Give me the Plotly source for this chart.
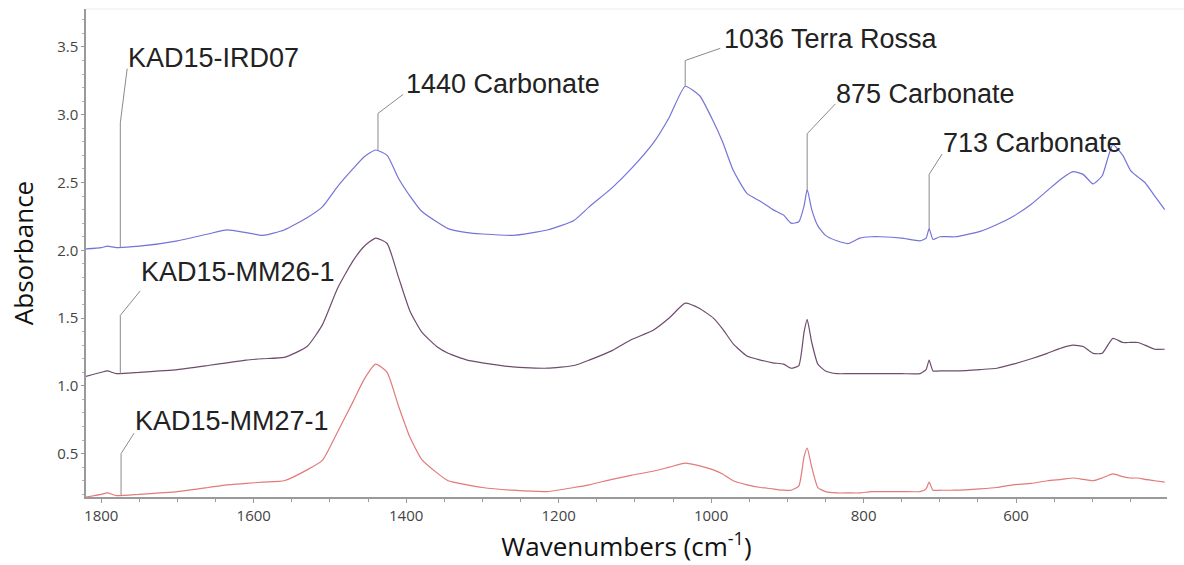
import plotly.graph_objects as go

wavenumber = [1820, 1800, 1792, 1780, 1750, 1700, 1660, 1635, 1610, 1588, 1560, 1530, 1510, 1490, 1470, 1455,
              1440, 1425, 1410, 1395, 1380, 1360, 1345, 1320, 1300, 1260, 1215, 1180, 1160, 1130, 1105, 1076,
              1055, 1034, 1015, 997, 985, 971, 953, 935, 919, 905, 895, 885, 878, 874, 868, 860, 850, 835, 820,
              805, 790, 778, 750, 726, 718, 714, 709, 700, 680, 647, 625, 604, 580, 559, 540, 525, 512, 499, 487,
              473, 460, 450, 440, 431, 418, 405]

ird07 = [2.01, 2.02, 2.03, 2.02, 2.03, 2.07, 2.12, 2.15, 2.13, 2.11, 2.15, 2.24, 2.32, 2.47, 2.60, 2.69,
         2.74, 2.70, 2.53, 2.40, 2.29, 2.21, 2.16, 2.13, 2.12, 2.11, 2.15, 2.22, 2.32, 2.46, 2.60, 2.79,
         2.98, 3.21, 3.14, 2.95, 2.80, 2.59, 2.42, 2.36, 2.30, 2.26, 2.20, 2.21, 2.33, 2.45, 2.30, 2.18, 2.11, 2.07, 2.05,
         2.09, 2.10, 2.10, 2.09, 2.07, 2.09, 2.16, 2.08, 2.10, 2.10, 2.14, 2.19, 2.25, 2.34, 2.44, 2.53, 2.58, 2.56, 2.49, 2.55,
         2.78, 2.70, 2.59, 2.54, 2.50, 2.40, 2.30]

mm26 = [1.07, 1.10, 1.11, 1.09, 1.10, 1.12, 1.15, 1.17, 1.19, 1.20, 1.21, 1.29, 1.45, 1.72, 1.92, 2.03,
        2.09, 2.05, 1.80, 1.55, 1.40, 1.29, 1.24, 1.19, 1.17, 1.14, 1.13, 1.15, 1.19, 1.26, 1.34, 1.41,
        1.50, 1.61, 1.57, 1.50, 1.42, 1.31, 1.22, 1.19, 1.17, 1.16, 1.13, 1.15, 1.40, 1.49, 1.32, 1.16, 1.11, 1.09, 1.09,
        1.09, 1.09, 1.09, 1.09, 1.09, 1.12, 1.19, 1.11, 1.11, 1.11, 1.12, 1.13, 1.16, 1.20, 1.24, 1.28, 1.30, 1.29, 1.24, 1.24,
        1.35, 1.32, 1.32, 1.32, 1.30, 1.27, 1.27]

mm27 = [0.18, 0.20, 0.21, 0.19, 0.20, 0.22, 0.25, 0.27, 0.28, 0.29, 0.30, 0.38, 0.45, 0.66, 0.88, 1.05,
        1.16, 1.10, 0.85, 0.62, 0.46, 0.36, 0.30, 0.27, 0.25, 0.23, 0.22, 0.25, 0.27, 0.31, 0.34, 0.37,
        0.40, 0.43, 0.41, 0.38, 0.35, 0.30, 0.27, 0.25, 0.24, 0.23, 0.23, 0.26, 0.48, 0.54, 0.40, 0.25, 0.22, 0.21, 0.21,
        0.21, 0.22, 0.22, 0.22, 0.22, 0.24, 0.29, 0.23, 0.23, 0.23, 0.24, 0.25, 0.27, 0.28, 0.30, 0.31, 0.32, 0.31, 0.30, 0.32,
        0.35, 0.33, 0.32, 0.32, 0.31, 0.30, 0.29]

series_names = ["KAD15-IRD07", "KAD15-MM26-1", "KAD15-MM27-1"]
series_colors = ["#7474d8", "#6e4c6e", "#e27a7a"]

# Labels: text, anchor wavenumber, anchor value (on curve), elbow value, label wavenumber, label value
label_texts = ["KAD15-IRD07", "KAD15-MM26-1", "KAD15-MM27-1",
               "1440 Carbonate", "1036 Terra Rossa", "875 Carbonate", "713 Carbonate"]
label_anchor_w = [1775, 1775, 1774, 1437, 1034, 874, 714]
label_anchor_v = [2.02, 1.09, 0.19, 2.74, 3.21, 2.45, 2.16]
label_elbow_v = [2.94, 1.52, 0.50, 3.01, 3.40, 2.86, 2.56]
label_end_w = [1766, 1749, 1757, 1404, 988, 837, 697]
label_end_v = [3.34, 1.70, 0.65, 3.15, 3.49, 3.08, 2.71]
label_text_w = [1768, 1750, 1759, 1403, 986, 839, 699]
label_text_v = [3.42, 1.84, 0.74, 3.23, 3.56, 3.15, 2.79]

fig = go.Figure()

for name, vals, col in zip(series_names, [ird07, mm26, mm27], series_colors):
    fig.add_trace(go.Scatter(x=wavenumber, y=vals, mode="lines", name=name,
                             line=dict(color=col, width=1.2, shape="spline", smoothing=0.5),
                             showlegend=False))

for i in range(len(label_texts)):
    fig.add_trace(go.Scatter(
        x=[label_anchor_w[i], label_anchor_w[i], label_end_w[i]],
        y=[label_anchor_v[i], label_elbow_v[i], label_end_v[i]],
        mode="lines", line=dict(color="#8a8a8a", width=1), showlegend=False, hoverinfo="skip"))
    fig.add_annotation(x=label_text_w[i], y=label_text_v[i], text=label_texts[i],
                       showarrow=False, xanchor="left", yanchor="middle",
                       font=dict(family="Liberation Sans, Arial", size=27, color="#222222"))

fig.add_shape(type="line", xref="paper", yref="paper", x0=0, x1=1.016, y0=1, y1=1,
              line=dict(color="#ececec", width=1))

fig.update_layout(
    width=1184, height=565,
    margin=dict(l=86, r=17, t=9, b=68),
    paper_bgcolor="white", plot_bgcolor="white",
    xaxis=dict(range=[1820, 402], showgrid=False, zeroline=False,
               showline=True, linecolor="#9a9a9a", linewidth=1.5,
               tickmode="array", tickvals=[1800, 1600, 1400, 1200, 1000, 800, 600],
               ticks="outside", ticklen=4, tickcolor="#9a9a9a",
               minor=dict(dtick=50, ticks="outside", ticklen=3, tickcolor="#9a9a9a"),
               tickfont=dict(family="Open Sans", size=15, color="#444444"),
               title=dict(text="Wavenumbers (cm<sup>-1</sup>)", standoff=14,
                          font=dict(family="Open Sans", size=26, color="#111111"))),
    yaxis=dict(range=[0.18, 3.78], showgrid=False, zeroline=False,
               showline=True, linecolor="#9a9a9a", linewidth=1.5,
               tickmode="array", tickvals=[0.5, 1.0, 1.5, 2.0, 2.5, 3.0, 3.5],
               ticktext=["0.5", "1.0", "1.5", "2.0", "2.5", "3.0", "3.5"],
               ticks="outside", ticklen=3, tickcolor="#9a9a9a",
               minor=dict(dtick=0.1, ticks="outside", ticklen=2, tickcolor="#b0b0b0"),
               tickfont=dict(family="Open Sans", size=15, color="#444444"),
               title=dict(text="Absorbance", standoff=16,
                          font=dict(family="Open Sans", size=26, color="#111111"))),
)

fig.write_html("out.html")
